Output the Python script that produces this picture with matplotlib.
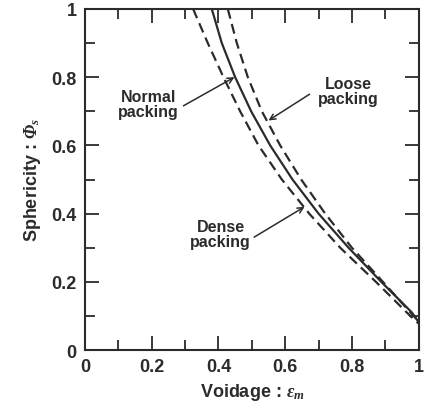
import matplotlib.pyplot as plt

plt.rcParams["font.family"] = ["Liberation Sans", "DejaVu Sans"]
plt.rcParams["mathtext.fontset"] = "custom"
plt.rcParams["mathtext.it"] = "Liberation Serif:italic:bold"
plt.rcParams["mathtext.sf"] = "Liberation Serif:italic:bold"
plt.rcParams["mathtext.rm"] = "Liberation Sans:bold"

# sphericity values
phi_normal = [1.0, 0.9, 0.8, 0.7, 0.6, 0.5, 0.4, 0.3, 0.2, 0.11, 0.082]
void_normal = [0.38, 0.41, 0.45, 0.498, 0.555, 0.622, 0.70, 0.79, 0.888, 0.98, 1.0]

phi_dense = [1.0, 0.9, 0.8, 0.7, 0.6, 0.5, 0.4, 0.3, 0.2, 0.1, 0.078]
void_dense = [0.324, 0.368, 0.415, 0.465, 0.52, 0.59, 0.672, 0.765, 0.872, 0.975, 1.0]

phi_loose = [1.0, 0.9, 0.8, 0.7, 0.6, 0.5, 0.4, 0.3, 0.2, 0.1, 0.085]
void_loose = [0.428, 0.455, 0.488, 0.53, 0.585, 0.648, 0.72, 0.80, 0.893, 0.985, 1.0]

major_ticks = [0, 0.2, 0.4, 0.6, 0.8, 1.0]
minor_ticks = [0.1, 0.3, 0.5, 0.7, 0.9]
tick_labels = ["0", "0.2", "0.4", "0.6", "0.8", "1"]

ink = "#2b2b2b"

fig = plt.figure(figsize=(4.25, 4.14), dpi=100, facecolor="white")
ax = fig.add_axes([0.2, 0.152, 0.785, 0.824])

ax.plot(void_normal, phi_normal, color=ink, lw=1.6, solid_capstyle="butt")
ax.plot(void_dense, phi_dense, color=ink, lw=1.6, dashes=(4.5, 2.5))
ax.plot(void_loose, phi_loose, color=ink, lw=1.6, dashes=(4.5, 2.5))

arrow = dict(arrowstyle="->", color=ink, lw=1.1, shrinkA=0, shrinkB=0)
txt = dict(ha="center", va="center", fontsize=11.5, fontweight="bold",
           color=ink, linespacing=1.0)
ax.annotate("", xy=(0.448, 0.80), xytext=(0.295, 0.716), arrowprops=arrow)
ax.text(0.19, 0.72, "Normal\npacking", **txt)
ax.annotate("", xy=(0.55, 0.673), xytext=(0.673, 0.75), arrowprops=arrow)
ax.text(0.79, 0.76, "Loose\npacking", **txt)
ax.annotate("", xy=(0.658, 0.42), xytext=(0.507, 0.331), arrowprops=arrow)
ax.text(0.407, 0.34, "Dense\npacking", **txt)

ax.set_xlim(0, 1)
ax.set_ylim(0, 1)
ax.set_xticks(major_ticks)
ax.set_xticks(minor_ticks, minor=True)
ax.set_yticks(major_ticks)
ax.set_yticks(minor_ticks, minor=True)
ax.set_xticklabels(tick_labels)
ax.set_yticklabels(tick_labels)
ax.tick_params(which="both", direction="in", top=True, right=True,
               width=1.3, color=ink, labelsize=13, labelcolor=ink)
ax.tick_params(which="major", length=10, pad=6)
ax.tick_params(which="minor", length=7)
for lab in ax.get_xticklabels() + ax.get_yticklabels():
    lab.set_fontweight("bold")
for s in ax.spines.values():
    s.set_linewidth(1.5)
    s.set_color(ink)

ax.set_xlabel(r"Voidage : $\varepsilon_m$", fontsize=13, fontweight="bold",
              color=ink, labelpad=4)
ax.set_ylabel("Sphericity : $\\mathsf{\u03A6}_s$", fontsize=13,
              fontweight="bold", color=ink, labelpad=6)

fig.savefig("out.png", dpi=100)
